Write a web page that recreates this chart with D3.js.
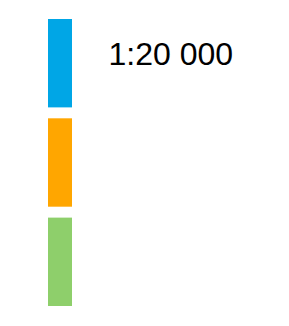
<!DOCTYPE html>
<html>
<head>
<meta charset="utf-8">
<script src="https://cdn.jsdelivr.net/npm/d3@7/dist/d3.min.js"></script>
<style>
  html, body { margin: 0; padding: 0; background: #fff; }
  svg { display: block; }
</style>
</head>
<body>
<svg width="289" height="326"></svg>
<script>
// legend entries, top to bottom
var categories = ["a", "b", "c"];
var colors = ["#00A6E6", "#FFA600", "#8ECF6B"];
var scaleLabel = ["1:20 000"];

var svg = d3.select("svg"),
    width = +svg.attr("width"),
    height = +svg.attr("height");

var y = d3.scaleBand()
    .domain(categories)
    .range([19, 306])
    .paddingInner(0.11);

var color = d3.scaleOrdinal()
    .domain(categories)
    .range(colors);

svg.append("g")
    .attr("class", "bars")
  .selectAll("rect")
  .data(categories)
  .enter().append("rect")
    .attr("x", 48)
    .attr("y", function(d) { return y(d); })
    .attr("width", 24)
    .attr("height", y.bandwidth())
    .attr("fill", function(d) { return color(d); });

svg.append("text")
    .attr("x", 108.5)
    .attr("y", 65)
    .attr("font-family", "Liberation Sans, Arial, sans-serif")
    .attr("font-size", 32)
    .attr("fill", "#000")
    .text(scaleLabel[0]);
</script>
</body>
</html>
